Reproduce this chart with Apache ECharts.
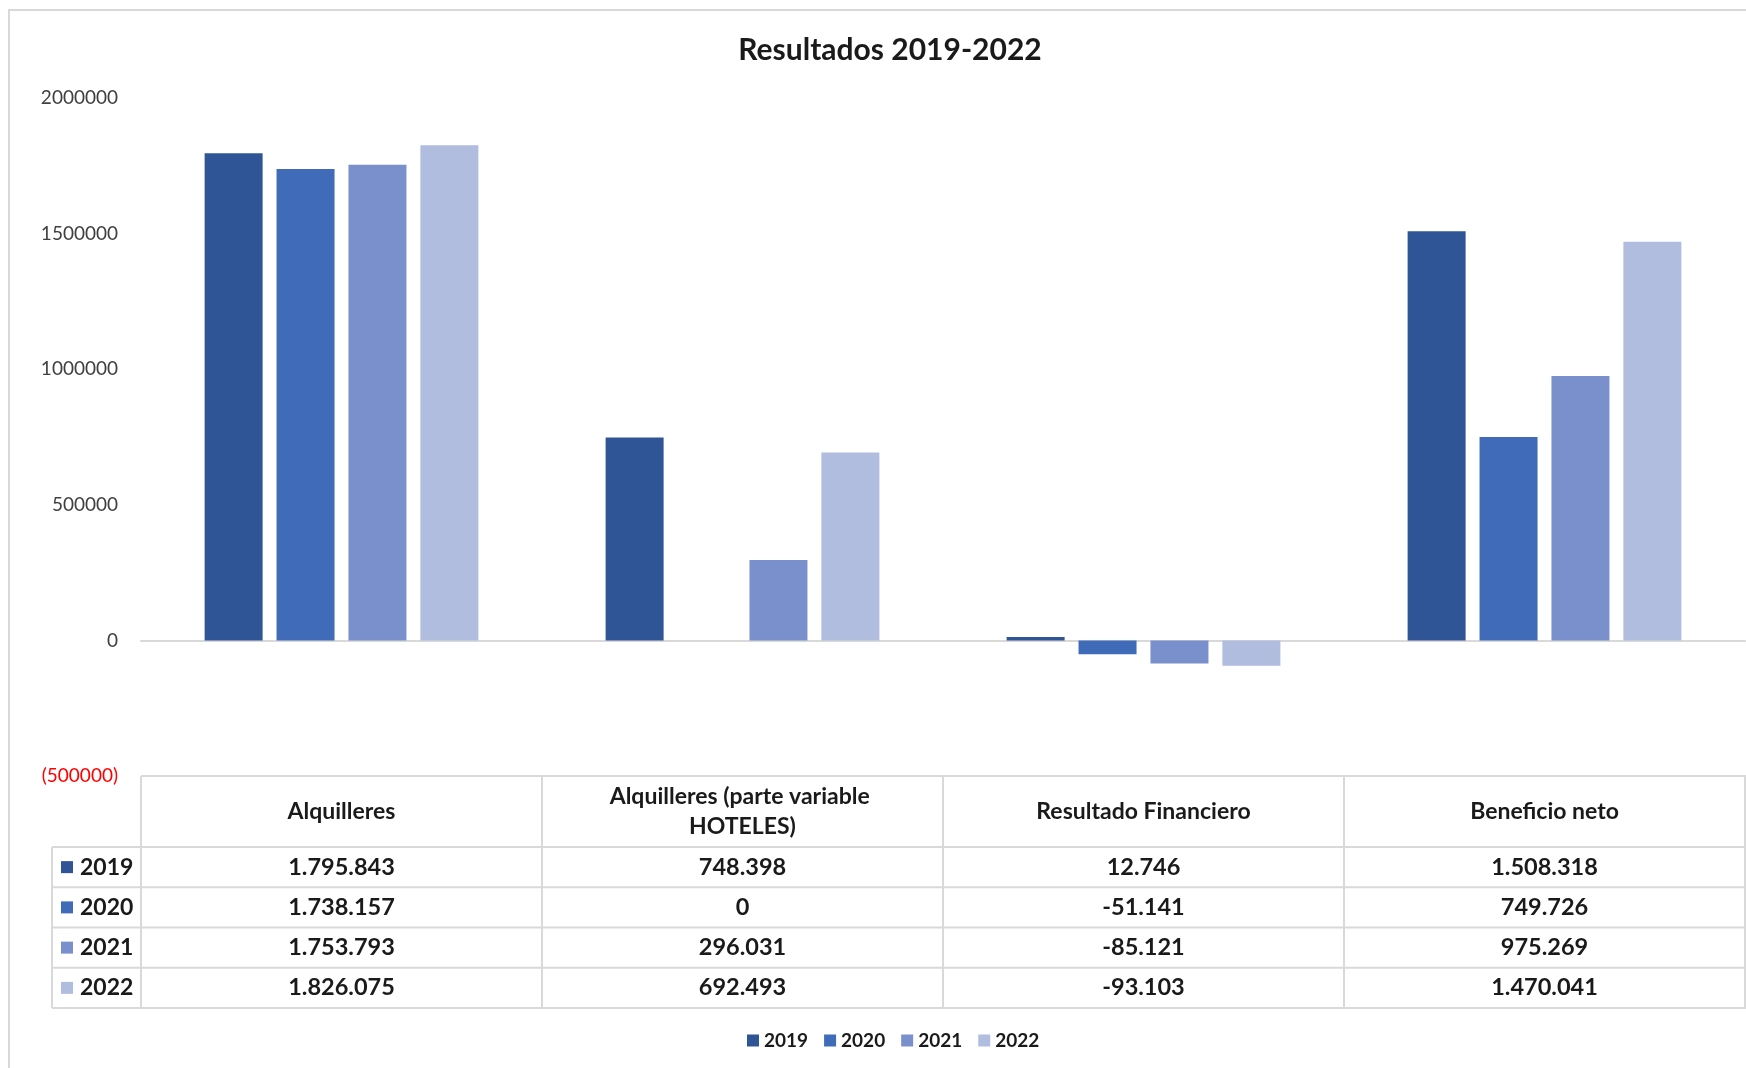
<!DOCTYPE html>
<html>
<head>
<meta charset="utf-8">
<script src="https://cdn.jsdelivr.net/npm/echarts@6/dist/echarts.min.js"></script>
<style>
html, body { margin: 0; padding: 0; background: #fff; }
#main { width: 1746px; height: 1068px; }
</style>
</head>
<body>
<div id="main"></div>
<script>
// data
var categories = ['Alquilleres', 'Alquilleres (parte variable HOTELES)', 'Resultado Financiero', 'Beneficio neto'];
var years = ['2019', '2020', '2021', '2022'];
var v2019 = [1795843, 748398, 12746, 1508318];
var v2020 = [1738157, 0, -51141, 749726];
var v2021 = [1753793, 296031, -85121, 975269];
var v2022 = [1826075, 692493, -93103, 1470041];
var yTicks = [-500000, 0, 500000, 1000000, 1500000, 2000000];

var colors = ['#2F5597', '#3F6BB8', '#7990CC', '#B0BDDF'];
var values = [v2019, v2020, v2021, v2022];
var font = 'Lato, "Noto Sans", sans-serif';

// layout
var gridLeft = 141, gridRight = 1745, gridTop = 98, gridBottom = 776;
var colW = (gridRight - gridLeft) / categories.length;
var tableLeft = 52;
var headTop = 776, headBottom = 847, rowH = 40.25;
var lineColor = '#D9D9D9';

function fmt(n) {
    var s = String(Math.abs(n)).replace(/\B(?=(\d{3})+(?!\d))/g, '.');
    return n < 0 ? '-' + s : s;
}

var chart = echarts.init(document.getElementById('main'));

var graphics = [];
// outer frame
graphics.push({
    type: 'rect', shape: {x: 9, y: 10, width: 1760, height: 1080},
    style: {fill: 'none', stroke: '#D9D9D9', lineWidth: 2}, silent: true
});
// title, centred over the plot area
graphics.push({
    type: 'text', x: 890, y: 50,
    style: {text: 'Resultados 2019-2022', align: 'center', verticalAlign: 'middle',
        font: 'bold 30px ' + font, fill: '#1a1a1a'}, silent: true
});

function hline(x1, x2, y) {
    graphics.push({type: 'line', shape: {x1: x1, y1: y, x2: x2, y2: y},
        style: {stroke: lineColor, lineWidth: 2}, silent: true});
}
function vline(x, y1, y2) {
    graphics.push({type: 'line', shape: {x1: x, y1: y1, x2: x, y2: y2},
        style: {stroke: lineColor, lineWidth: 2}, silent: true});
}

var tableBottom = headBottom + rowH * years.length;
hline(gridLeft, 1746, headTop);
for (var r = 0; r <= years.length; r++) {
    hline(tableLeft, 1746, headBottom + rowH * r);
}
vline(tableLeft, headBottom, tableBottom);
for (var c = 0; c <= categories.length; c++) {
    vline(gridLeft + colW * c, headTop, tableBottom);
}

// header
categories.forEach(function (name, i) {
    graphics.push({
        type: 'text', x: gridLeft + colW * (i + 0.5), y: (headTop + headBottom) / 2,
        style: {
            text: name, width: 330, overflow: 'break', lineHeight: 30,
            align: 'center', verticalAlign: 'middle',
            font: 'bold 23px ' + font, fill: '#1a1a1a'
        }, silent: true
    });
});

// rows
years.forEach(function (yr, r) {
    var cy = headBottom + rowH * (r + 0.5);
    graphics.push({
        type: 'rect', shape: {x: 61, y: cy - 6, width: 12, height: 12},
        style: {fill: colors[r]}, silent: true
    });
    graphics.push({
        type: 'text', x: 80, y: cy,
        style: {text: yr, align: 'left', verticalAlign: 'middle',
            font: 'bold 23px ' + font, fill: '#1a1a1a'}, silent: true
    });
    values[r].forEach(function (v, i) {
        graphics.push({
            type: 'text', x: gridLeft + colW * (i + 0.5), y: cy,
            style: {text: fmt(v), align: 'center', verticalAlign: 'middle',
                font: 'bold 23.5px ' + font, fill: '#1a1a1a'}, silent: true
        });
    });
});

var series = years.map(function (yr, i) {
    return {
        name: yr,
        type: 'bar',
        data: values[i],
        barWidth: 58,
        barGap: '24%',
        itemStyle: {color: colors[i]}
    };
});

var option = {
    animation: false,
    backgroundColor: '#fff',
    color: colors,
    legend: {
        bottom: 13,
        left: 742,
        itemWidth: 12,
        itemHeight: 12,
        itemGap: 16,
        icon: 'rect',
        textStyle: {fontFamily: font, fontWeight: 'bold', fontSize: 19, color: '#1a1a1a'},
        data: years
    },
    grid: {
        left: gridLeft,
        right: 1746 - gridRight,
        top: gridTop,
        bottom: 1068 - gridBottom,
        containLabel: false
    },
    xAxis: {
        type: 'category',
        data: categories,
        axisLine: {show: true, onZero: true, lineStyle: {color: lineColor, width: 2}},
        axisTick: {show: false},
        axisLabel: {show: false},
        splitLine: {show: false}
    },
    yAxis: {
        type: 'value',
        min: yTicks[0],
        max: yTicks[yTicks.length - 1],
        interval: 500000,
        axisLine: {show: false},
        axisTick: {show: false},
        splitLine: {show: false},
        axisLabel: {
            margin: 23,
            fontFamily: font,
            fontSize: 19,
            color: '#404040',
            formatter: function (v) {
                return v < 0 ? '{neg|(' + Math.abs(v) + ')}' : String(v);
            },
            rich: {neg: {color: '#FF0000', fontFamily: font, fontSize: 19}}
        }
    },
    series: series,
    graphic: graphics
};
chart.setOption(option);
</script>
</body>
</html>
